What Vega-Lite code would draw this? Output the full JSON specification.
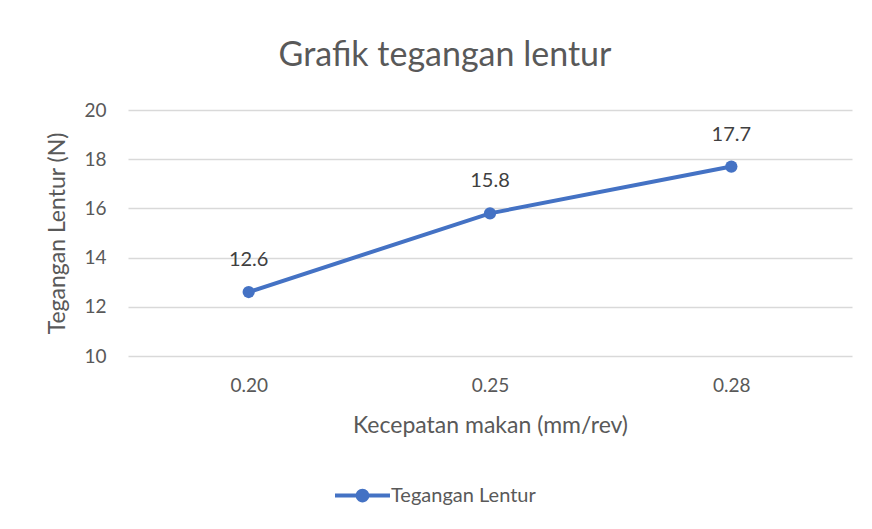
{
  "$schema": "https://vega.github.io/schema/vega-lite/v6.json",
  "autosize": "none",
  "width": 724,
  "height": 246,
  "padding": {"left": 128, "top": 110, "right": 20, "bottom": 173},
  "background": "white",
  "config": {
    "font": "Lato",
    "view": {"stroke": null},
    "axis": {"labelColor": "#595959", "titleColor": "#595959", "labelFont": "Lato", "titleFont": "Lato", "titleFontWeight": "normal"}
  },
  "title": {
    "text": "Grafik tegangan lentur",
    "fontSize": 34,
    "font": "Lato",
    "fontWeight": "normal",
    "color": "#595959",
    "anchor": "middle",
    "dx": -45,
    "offset": 28
  },
  "data": {
    "values": [
      {"x": "0.20", "y": 12.6, "series": "Tegangan Lentur"},
      {"x": "0.25", "y": 15.8, "series": "Tegangan Lentur"},
      {"x": "0.28", "y": 17.7, "series": "Tegangan Lentur"}
    ]
  },
  "encoding": {
    "x": {
      "field": "x", "type": "ordinal", "sort": null,
      "scale": {"type": "point", "padding": 0.5},
      "axis": {"title": "Kecepatan makan (mm/rev)", "labelAngle": 0, "ticks": false, "domain": false, "labelFontSize": 19, "labelPadding": 20, "titleFontSize": 23, "titlePadding": 19}
    },
    "y": {
      "field": "y", "type": "quantitative",
      "scale": {"domain": [10, 20], "nice": false, "zero": false},
      "axis": {"title": "Tegangan Lentur (N)", "values": [10, 12, 14, 16, 18, 20], "ticks": false, "domain": false, "grid": true, "gridColor": "#d9d9d9", "gridWidth": 1.3, "labelFontSize": 19, "labelPadding": 22, "titleFontSize": 23, "titlePadding": 14}
    }
  },
  "layer": [
    {
      "mark": {"type": "line", "strokeWidth": 4, "color": "#4472C4"},
      "encoding": {
        "color": {
          "field": "series", "type": "nominal",
          "scale": {"range": ["#4472C4"]},
          "legend": {
            "title": null,
            "orient": "none",
            "legendX": 207,
            "legendY": 358,
            "labelFontSize": 20,
            "labelColor": "#595959",
            "labelFont": "Lato",
            "symbolSize": 3025,
            "labelOffset": 1,
            "encode": {
              "symbols": {"update": {"fill": {"value": "#4472C4"}, "strokeWidth": {"value": 0}, "shape": {"value": "M-1,-0.075 L1,-0.075 L1,0.075 L-1,0.075 Z M-0.25,0 A0.25,0.25 0 1,1 0.25,0 A0.25,0.25 0 1,1 -0.25,0 Z"}, "size": {"value": 3025}}}
            }
          }
        }
      }
    },
    {
      "mark": {"type": "point", "filled": true, "size": 150, "color": "#4472C4", "opacity": 1}
    },
    {
      "mark": {"type": "text", "dy": -32, "fontSize": 20, "color": "#404040", "font": "Lato"},
      "encoding": {"text": {"field": "y", "type": "quantitative", "format": ".1f"}}
    }
  ]
}
